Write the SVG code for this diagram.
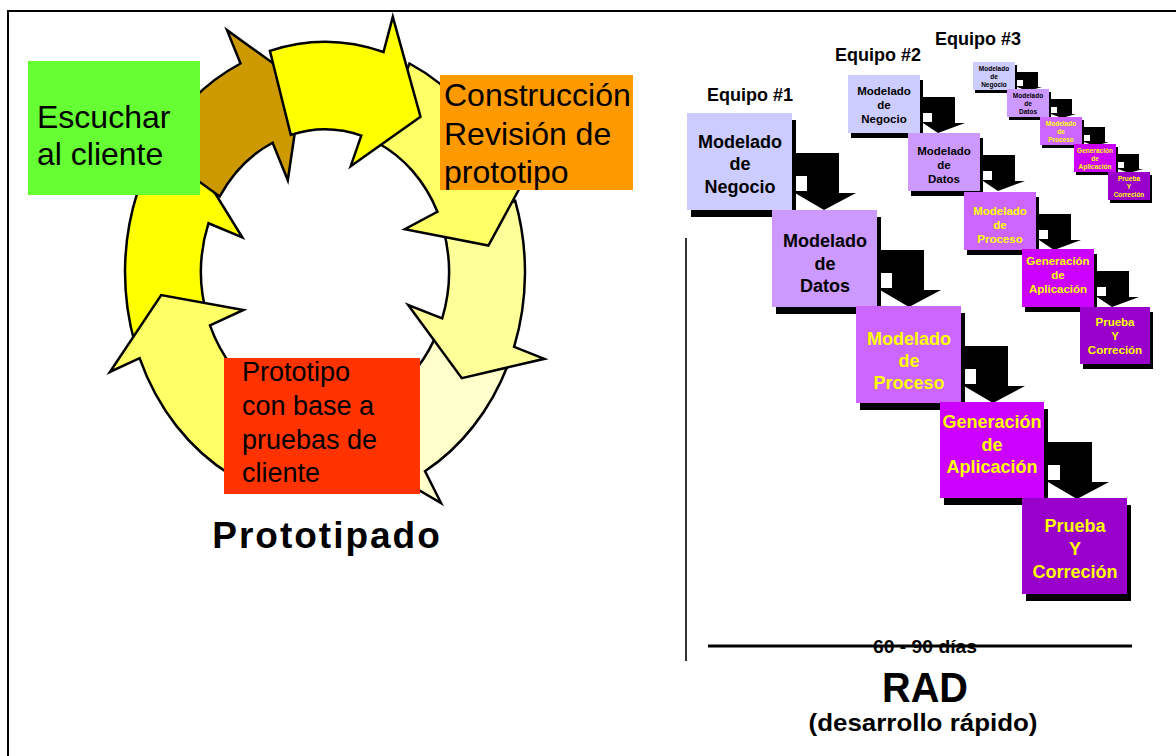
<svg xmlns="http://www.w3.org/2000/svg" width="1176" height="756" viewBox="0 0 1176 756">
<style>
  text { font-family: "Liberation Sans", Arial, sans-serif; }
  .ring path { stroke: #000; stroke-width: 2.5; vector-effect: non-scaling-stroke; stroke-linejoin: miter; }
  .big { font-size: 32px; fill: #000; }
  .red { font-size: 27px; fill: #000; }
  .t1 { font-size: 18px; font-weight: bold; text-anchor: middle; }
  .t2 { font-size: 11.5px; font-weight: bold; text-anchor: middle; }
  .t3 { font-size: 6.5px; font-weight: bold; text-anchor: middle; }
  .lbl { font-size: 18px; font-weight: bold; fill: #000; }
  .dk { fill: #000; }
  .yl { fill: #FFFF00; }
  .c1 { fill: #CCCCFF; } .c2 { fill: #CC99FF; } .c3 { fill: #CC66FF; } .c4 { fill: #CC00FF; } .c5 { fill: #9900CC; }
  .sh { fill: #000; }
  .arr { fill: #000; }
  .gap { fill: #fff; }
</style>
<rect width="1176" height="756" fill="#fff"/>
<path d="M8,756 V11 H1176" fill="none" stroke="#000" stroke-width="2"/>

<g id="cycle" class="ring" transform="translate(325,272) scale(1,1.15)">
  <path id="arrowE" fill="#FFFFCC" d="M182.7,81.3 A200,200 0 0 1 100,173.2 L116,200.9 L37.1,160.8 L50,86.6 L62,107.4 A124,124 0 0 0 113.3,50.4 Z"/>
  <path id="arrowD" fill="#FFFF99" d="M190.2,-61.8 A200,200 0 0 1 189.1,65.1 L219.4,75.5 L136.8,92.3 L83.2,28.7 L117.2,40.4 A124,124 0 0 0 117.9,-38.3 Z"/>
  <path id="arrowC" fill="#FFFF66" d="M84.5,-181.3 A200,200 0 0 1 181.3,-84.5 L210.3,-98.0 L163.4,-23.0 L79.8,-37.2 L112.4,-52.4 A124,124 0 0 0 52.4,-112.4 Z"/>
  <path id="arrowG" fill="#FFFF00" d="M-190.2,61.8 A200,200 0 0 1 -187.9,-68.4 L-218.0,-79.3 L-131.8,-99.3 L-82.7,-30.1 L-116.5,-42.4 A124,124 0 0 0 -117.9,38.3 Z"/>
  <path id="arrowA" fill="#CC9900" d="M-169.6,-106.0 A200,200 0 0 1 -84.5,-181.3 L-98.0,-210.3 L-23.0,-163.4 L-37.2,-79.8 L-52.4,-112.4 A124,124 0 0 0 -105.2,-65.7 Z"/>
  <path id="arrowB" fill="#FFFF00" d="M-55.1,-192.3 A200,200 0 0 1 58.5,-191.3 L67.8,-221.9 L95.5,-135 L25.7,-92 L36.3,-118.6 A124,124 0 0 0 -34.2,-119.2 Z"/>
  <path id="arrowF" fill="#FFFF66" d="M-93.9,176.6 A200,200 0 0 1 -185.4,74.9 L-215.1,86.9 L-163.8,20.1 L-81.6,33.0 L-115.0,46.4 A124,124 0 0 0 -58.2,109.5 Z"/>
</g>

<g id="escuchar">
  <rect x="28" y="61" width="172" height="134" fill="#66FF33"/>
  <text class="big" x="37" y="128">Escuchar</text>
  <text class="big" x="37" y="165">al cliente</text>
</g>
<g id="construccion">
  <rect x="440" y="75" width="193" height="115" fill="#FF9900"/>
  <text class="big" x="444" y="106">Construcción</text>
  <text class="big" x="444" y="145">Revisión de</text>
  <text class="big" x="444" y="183">prototipo</text>
</g>
<g id="prototipo">
  <rect x="224" y="358" width="196" height="136" fill="#FF3300"/>
  <text class="red" x="242" y="381">Prototipo</text>
  <text class="red" x="242" y="415">con base a</text>
  <text class="red" x="242" y="449">pruebas de</text>
  <text class="red" x="242" y="482">cliente</text>
</g>
<text id="title-prototipado" x="327" y="548" text-anchor="middle" font-size="37" font-weight="bold" letter-spacing="2" fill="#000">Prototipado</text>

<g id="connectors">
  <path class="arr" d="M795,153 H839 V193 H856 L824,210 L795,193 Z"/>
  <rect class="gap" x="795" y="176" width="12" height="15"/>
  <path class="arr" d="M880,250 H924 V290 H941 L909,307 L880,290 Z"/>
  <rect class="gap" x="880" y="273" width="12" height="15"/>
  <path class="arr" d="M964,346 H1008 V386 H1025 L993,403 L964,386 Z"/>
  <rect class="gap" x="964" y="369" width="12" height="15"/>
  <path class="arr" d="M1048,442 H1092 V482 H1109 L1077,499 L1048,482 Z"/>
  <rect class="gap" x="1048" y="465" width="12" height="15"/>

  <path class="arr" d="M923,97 H955 V123 H965 L938,133 L923,123 Z"/>
  <rect class="gap" x="923" y="113" width="9" height="9"/>
  <path class="arr" d="M983,155 H1015 V181 H1025 L998,191 L983,181 Z"/>
  <rect class="gap" x="983" y="171" width="9" height="9"/>
  <path class="arr" d="M1039,214 H1071 V240 H1081 L1054,250 L1039,240 Z"/>
  <rect class="gap" x="1039" y="230" width="9" height="9"/>
  <path class="arr" d="M1097,271 H1129 V297 H1139 L1112,307 L1097,297 Z"/>
  <rect class="gap" x="1097" y="287" width="9" height="9"/>

  <path class="arr" d="M1017,72 H1038 V87 H1042 L1028,91 L1017,87 Z"/>
  <rect class="gap" x="1017" y="80" width="6" height="6"/>
  <path class="arr" d="M1051,99 H1072 V114 H1076 L1062,118 L1051,114 Z"/>
  <rect class="gap" x="1051" y="107" width="6" height="6"/>
  <path class="arr" d="M1084,127 H1105 V142 H1109 L1095,146 L1084,142 Z"/>
  <rect class="gap" x="1084" y="135" width="6" height="6"/>
  <path class="arr" d="M1118,154 H1139 V169 H1143 L1129,173 L1118,169 Z"/>
  <rect class="gap" x="1118" y="162" width="6" height="6"/>
</g>

<text class="lbl" x="707" y="101">Equipo #1</text>
<text class="lbl" x="835" y="61">Equipo #2</text>
<text class="lbl" x="935" y="45">Equipo #3</text>

<!-- Team 1 -->
<g id="t1-negocio">
  <rect class="sh" x="691" y="120" width="105" height="97"/>
  <rect class="c1" x="687" y="113" width="105" height="97"/>
  <text class="t1 dk" x="740" y="148">Modelado</text>
  <text class="t1 dk" x="740" y="170">de</text>
  <text class="t1 dk" x="740" y="193">Negocio</text>
</g>
<g id="t1-datos">
  <rect class="sh" x="776" y="217" width="105" height="97"/>
  <rect class="c2" x="772" y="210" width="105" height="97"/>
  <text class="t1 dk" x="825" y="247">Modelado</text>
  <text class="t1 dk" x="825" y="270">de</text>
  <text class="t1 dk" x="825" y="292">Datos</text>
</g>
<g id="t1-proceso">
  <rect class="sh" x="860" y="313" width="105" height="97"/>
  <rect class="c3" x="856" y="306" width="105" height="97"/>
  <text class="t1 yl" x="909" y="345">Modelado</text>
  <text class="t1 yl" x="909" y="367">de</text>
  <text class="t1 yl" x="909" y="389">Proceso</text>
</g>
<g id="t1-aplicacion">
  <rect class="sh" x="944" y="409" width="104" height="96"/>
  <rect class="c4" x="940" y="402" width="104" height="96"/>
  <text class="t1 yl" x="992" y="428">Generación</text>
  <text class="t1 yl" x="992" y="451">de</text>
  <text class="t1 yl" x="992" y="473">Aplicación</text>
</g>
<g id="t1-prueba">
  <rect class="sh" x="1026" y="505" width="105" height="96"/>
  <rect class="c5" x="1022" y="498" width="105" height="96"/>
  <text class="t1 yl" x="1075" y="532">Prueba</text>
  <text class="t1 yl" x="1075" y="555">Y</text>
  <text class="t1 yl" x="1075" y="578">Correción</text>
</g>

<!-- Team 2 -->
<g id="t2-negocio">
  <rect class="sh" x="851" y="80" width="72" height="58"/>
  <rect class="c1" x="848" y="75" width="72" height="58"/>
  <text class="t2 dk" x="884" y="95">Modelado</text>
  <text class="t2 dk" x="884" y="109">de</text>
  <text class="t2 dk" x="884" y="123">Negocio</text>
</g>
<g id="t2-datos">
  <rect class="sh" x="911" y="138" width="72" height="58"/>
  <rect class="c2" x="908" y="133" width="72" height="58"/>
  <text class="t2 dk" x="944" y="155">Modelado</text>
  <text class="t2 dk" x="944" y="169">de</text>
  <text class="t2 dk" x="944" y="183">Datos</text>
</g>
<g id="t2-proceso">
  <rect class="sh" x="967" y="197" width="72" height="58"/>
  <rect class="c3" x="964" y="192" width="72" height="58"/>
  <text class="t2 yl" x="1000" y="215">Modelado</text>
  <text class="t2 yl" x="1000" y="229">de</text>
  <text class="t2 yl" x="1000" y="243">Proceso</text>
</g>
<g id="t2-aplicacion">
  <rect class="sh" x="1025" y="254" width="72" height="58"/>
  <rect class="c4" x="1022" y="249" width="72" height="58"/>
  <text class="t2 yl" x="1058" y="265">Generación</text>
  <text class="t2 yl" x="1058" y="279">de</text>
  <text class="t2 yl" x="1058" y="293">Aplicación</text>
</g>
<g id="t2-prueba">
  <rect class="sh" x="1083" y="312" width="70" height="57"/>
  <rect class="c5" x="1080" y="307" width="70" height="57"/>
  <text class="t2 yl" x="1115" y="326">Prueba</text>
  <text class="t2 yl" x="1115" y="340">Y</text>
  <text class="t2 yl" x="1115" y="354">Correción</text>
</g>

<!-- Team 3 -->
<g id="t3-negocio">
  <rect class="sh" x="975" y="65" width="42" height="28"/>
  <rect class="c1" x="973" y="62" width="42" height="28"/>
  <text class="t3 dk" x="994" y="71">Modelado</text>
  <text class="t3 dk" x="994" y="79">de</text>
  <text class="t3 dk" x="994" y="87">Negocio</text>
</g>
<g id="t3-datos">
  <rect class="sh" x="1009" y="92" width="42" height="28"/>
  <rect class="c2" x="1007" y="89" width="42" height="28"/>
  <text class="t3 dk" x="1028" y="98">Modelado</text>
  <text class="t3 dk" x="1028" y="106">de</text>
  <text class="t3 dk" x="1028" y="114">Datos</text>
</g>
<g id="t3-proceso">
  <rect class="sh" x="1042" y="120" width="42" height="28"/>
  <rect class="c3" x="1040" y="117" width="42" height="28"/>
  <text class="t3 yl" x="1061" y="126">Modelado</text>
  <text class="t3 yl" x="1061" y="134">de</text>
  <text class="t3 yl" x="1061" y="142">Proceso</text>
</g>
<g id="t3-aplicacion">
  <rect class="sh" x="1076" y="147" width="42" height="28"/>
  <rect class="c4" x="1074" y="144" width="42" height="28"/>
  <text class="t3 yl" x="1095" y="153">Generación</text>
  <text class="t3 yl" x="1095" y="161">de</text>
  <text class="t3 yl" x="1095" y="169">Aplicación</text>
</g>
<g id="t3-prueba">
  <rect class="sh" x="1110" y="175" width="42" height="28"/>
  <rect class="c5" x="1108" y="172" width="42" height="28"/>
  <text class="t3 yl" x="1129" y="181">Prueba</text>
  <text class="t3 yl" x="1129" y="189">Y</text>
  <text class="t3 yl" x="1129" y="197">Correción</text>
</g>

<g id="timeline">
  <line x1="686" y1="238" x2="686" y2="661" stroke="#333" stroke-width="2"/>
  <line x1="708" y1="646" x2="1132" y2="646" stroke="#000" stroke-width="3"/>
  <text x="925" y="653" text-anchor="middle" font-size="18" font-weight="bold" fill="#000" textLength="104" lengthAdjust="spacingAndGlyphs">60 - 90 días</text>
  <text x="925" y="702" text-anchor="middle" font-size="43" font-weight="bold" fill="#000" textLength="86" lengthAdjust="spacingAndGlyphs">RAD</text>
  <text x="923" y="731" text-anchor="middle" font-size="24" font-weight="bold" fill="#000" textLength="229" lengthAdjust="spacingAndGlyphs">(desarrollo rápido)</text>
</g>
</svg>
